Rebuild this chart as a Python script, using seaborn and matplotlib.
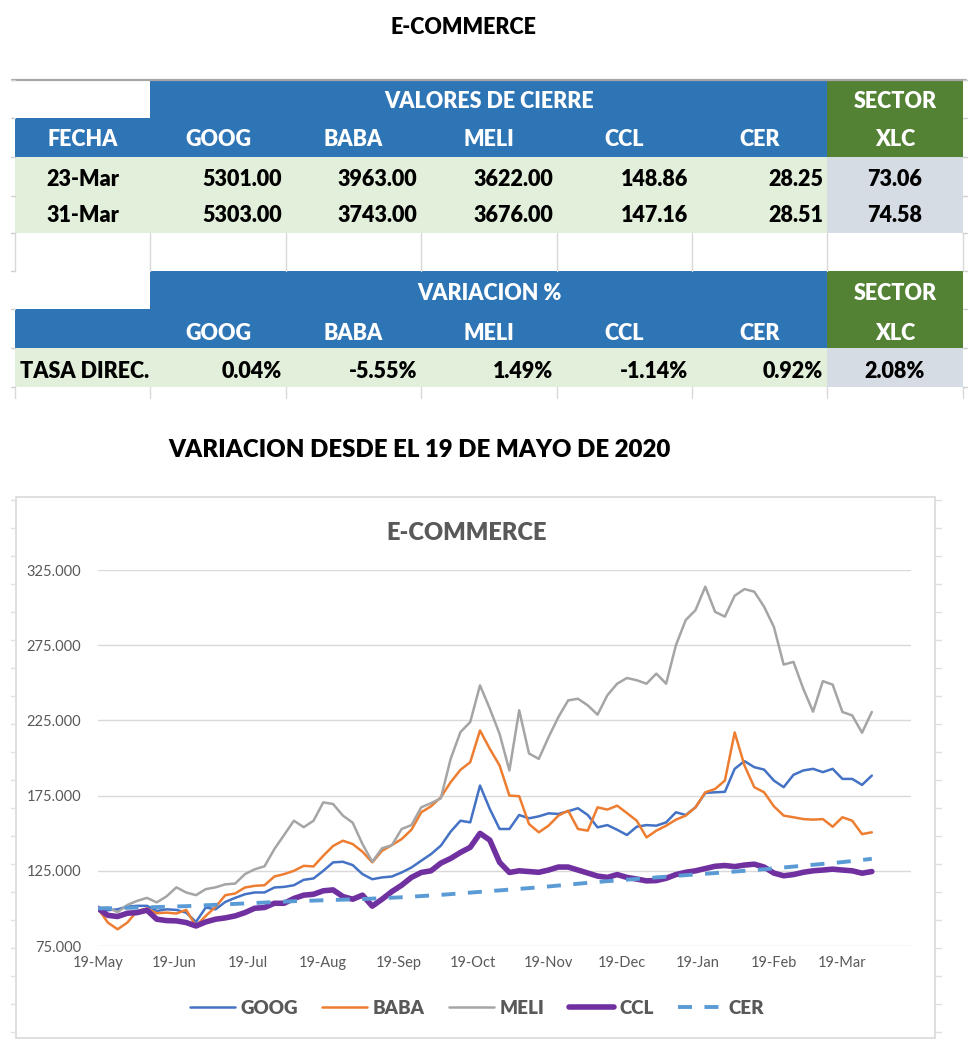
import numpy as np
import pandas as pd
import matplotlib
matplotlib.use("Agg")
import matplotlib.pyplot as plt
import matplotlib.dates as mdates
from matplotlib.patches import Rectangle
from matplotlib.lines import Line2D
import seaborn as sns

sns.set_theme(style="white")
plt.rcParams['font.family'] = ['Lato', 'DejaVu Sans']

# ---------------- table data ----------------
tickers = ["GOOG", "BABA", "MELI", "CCL", "CER"]
close_dates = ["23-Mar", "31-Mar"]
close_23 = [5301.00, 3963.00, 3622.00, 148.86, 28.25]
close_31 = [5303.00, 3743.00, 3676.00, 147.16, 28.51]
xlc_close = [73.06, 74.58]
var_pct = [0.04, -5.55, 1.49, -1.14, 0.92]
xlc_var = 2.08

# ---------------- chart data (base 100 = 19-May-2020, every 4 days) ----------------
start_date = "2020-05-19"
step_days = 4
goog = [100.0, 98.8, 99.4, 101.2, 101.7, 101.7, 98.3, 99.4, 99.0, 97.2,
        91.0, 100.6, 99.4, 104.3, 107.0, 109.4, 110.6, 110.6, 113.9, 114.3,
        115.4, 119.0, 119.9, 125.0, 130.6, 131.0, 128.8, 122.8, 119.4, 120.6,
        121.2, 123.9, 127.2, 131.7, 136.1, 141.7, 151.0, 158.3, 157.2, 181.7,
        166.1, 152.8, 152.8, 162.1, 159.9, 161.2, 163.2, 162.8, 164.6, 166.6,
        162.1, 153.9, 155.4, 152.3, 148.8, 154.3, 155.4, 155.0, 157.2, 163.9,
        162.1, 167.2, 176.8, 177.2, 177.5, 192.8, 197.9, 193.9, 192.3, 185.0,
        180.6, 188.8, 191.7, 192.8, 190.6, 192.8, 186.1, 186.1, 182.1, 188.3]
baba = [100.0, 90.6, 86.1, 90.6, 98.3, 99.9, 96.8, 97.2, 96.6, 99.0,
        88.3, 95.0, 101.0, 108.8, 109.9, 113.9, 115.0, 115.4, 121.2, 122.8,
        125.0, 128.3, 127.9, 135.0, 141.5, 145.0, 142.8, 137.7, 130.6, 138.3,
        142.1, 146.1, 152.3, 163.9, 167.9, 173.9, 183.9, 192.1, 197.2, 218.3,
        206.1, 195.0, 175.0, 174.6, 156.1, 150.6, 155.0, 161.7, 165.0, 152.8,
        151.7, 167.2, 165.7, 168.3, 163.4, 158.3, 147.2, 151.7, 155.0, 159.0,
        161.7, 167.2, 177.2, 179.4, 185.0, 217.0, 195.0, 180.6, 177.2, 167.9,
        161.7, 160.6, 159.4, 159.0, 159.4, 154.3, 160.6, 158.3, 149.4, 150.6]
meli = [100.0, 100.5, 97.5, 102.3, 105.0, 107.0, 104.0, 108.0, 114.0, 110.6,
        108.8, 112.8, 114.0, 116.0, 116.5, 122.8, 126.0, 128.0, 139.4, 148.8,
        158.3, 154.0, 158.3, 170.5, 169.4, 161.7, 157.0, 142.8, 131.0, 140.0,
        142.0, 152.8, 155.4, 167.2, 170.0, 173.2, 199.4, 217.2, 223.9, 248.3,
        232.8, 216.0, 191.7, 231.7, 203.0, 199.4, 213.9, 227.2, 238.3, 239.4,
        235.0, 228.8, 241.7, 249.4, 253.2, 251.7, 249.4, 256.1, 249.4, 275.0,
        291.7, 298.3, 313.9, 297.2, 294.0, 307.9, 312.3, 310.6, 300.6, 287.2,
        262.1, 263.9, 246.1, 230.8, 251.1, 248.8, 230.6, 228.3, 216.8, 230.6]
ccl = [100.0, 95.4, 94.6, 96.8, 97.2, 98.8, 92.8, 91.9, 91.7, 90.6,
       88.3, 91.0, 92.8, 93.7, 95.0, 97.2, 100.1, 100.6, 103.4, 103.4,
       106.6, 108.8, 109.4, 111.7, 112.3, 107.9, 106.1, 108.8, 101.5, 106.1,
       111.2, 115.4, 120.6, 123.9, 125.0, 130.1, 133.2, 137.2, 140.6, 149.9,
       145.4, 130.6, 123.9, 125.0, 124.5, 124.0, 125.5, 127.5, 127.5, 125.5,
       123.5, 121.5, 120.6, 122.5, 120.6, 119.5, 118.3, 118.5, 120.0, 122.5,
       124.0, 125.0, 126.5, 128.0, 128.5, 127.8, 128.8, 129.4, 127.5, 123.5,
       121.7, 122.5, 124.0, 125.0, 125.5, 126.1, 125.5, 125.0, 123.4, 124.5]
cer = [100.0, 100.1, 100.2, 100.4, 100.5, 100.7, 100.9, 101.1, 101.3, 101.5,
       101.8, 102.1, 102.4, 102.7, 103.0, 103.3, 103.6, 103.9, 104.2, 104.5,
       104.8, 105.0, 105.2, 105.4, 105.6, 105.8, 106.0, 106.2, 106.5, 106.8,
       107.1, 107.4, 107.8, 108.2, 108.6, 109.0, 109.5, 110.0, 110.5, 111.0,
       111.5, 112.0, 112.5, 113.0, 113.5, 114.0, 114.6, 115.2, 115.8, 116.4,
       117.0, 117.6, 118.1, 118.6, 119.1, 119.6, 120.1, 120.6, 121.1, 121.6,
       122.1, 122.6, 123.0, 123.5, 124.0, 124.5, 125.0, 125.5, 126.0, 126.6,
       127.2, 127.8, 128.4, 129.0, 129.6, 130.2, 130.8, 131.5, 132.2, 133.0]
yticks = [75, 125, 175, 225, 275, 325]
xtick_dates = ["2020-05-19", "2020-06-19", "2020-07-19", "2020-08-19", "2020-09-19",
               "2020-10-19", "2020-11-19", "2020-12-19", "2021-01-19", "2021-02-19",
               "2021-03-19"]

# ---------------- figure ----------------
W, H = 980, 1051
fig = plt.figure(figsize=(W / 100, H / 100), dpi=100)
fig.patch.set_facecolor("white")
BOLD = "heavy"


def fx(x):
    return x / W


def fy(y):
    return 1 - y / H


def rect(x0, y0, x1, y1, color, ec="none", lw=0):
    fig.add_artist(Rectangle((fx(x0), fy(y1)), (x1 - x0) / W, (y1 - y0) / H,
                             transform=fig.transFigure, facecolor=color,
                             edgecolor=ec, linewidth=lw, zorder=-2))


def hline(x0, x1, y, color="#D9D9D9", lw=1):
    fig.add_artist(Line2D([fx(x0), fx(x1)], [fy(y), fy(y)], transform=fig.transFigure,
                          color=color, linewidth=lw, zorder=-1))


def vline(x, y0, y1, color="#D9D9D9", lw=1):
    fig.add_artist(Line2D([fx(x), fx(x)], [fy(y0), fy(y1)], transform=fig.transFigure,
                          color=color, linewidth=lw, zorder=-1))


def txt(x, y, s, **kw):
    kw.setdefault("ha", "center")
    kw.setdefault("va", "center")
    kw.setdefault("fontweight", BOLD)
    kw.setdefault("fontsize", 15.5)
    fig.text(fx(x), fy(y), s, **kw)


BLUE = "#2E75B6"
GREEN = "#548235"
LGREEN = "#E2EFDA"
GBLUE = "#D6DCE4"

# title
txt(463, 28, "E-COMMERCE", color="black", fontsize=15.5)

cols = [15, 150, 286, 421, 557, 692, 827, 963]
col_centers = [(cols[i] + cols[i + 1]) / 2 for i in range(7)]
rows = [80, 118, 157, 196, 233, 271, 309, 348, 387]

# spreadsheet grid hints
hline(12, 966, 80, color="#A6A6A6", lw=1.6)
for c in cols:
    vline(c, 233, 271)
    vline(c, 387, 398)
for r in rows:
    hline(11, 15, r, color="#D0D0D0")
    hline(963, 967, r, color="#D0D0D0")

# block 1
rect(150, 80, 827, 118, BLUE)
rect(827, 80, 963, 118, GREEN)
rect(15, 118, 827, 157, BLUE)
rect(827, 118, 963, 157, GREEN)
rect(15, 157, 827, 233, LGREEN)
rect(827, 157, 963, 233, GBLUE)
txt(489, 101, "VALORES DE CIERRE", color="white")
txt(895, 101, "SECTOR", color="white")
txt(col_centers[0], 140, "FECHA", color="white")
for i, t in enumerate(tickers):
    txt(col_centers[i + 1], 140, t, color="white")
txt(895, 140, "XLC", color="white")
for r, (d, vals, xv) in enumerate(zip(close_dates, [close_23, close_31], xlc_close)):
    yc = 179 + r * 37
    txt(col_centers[0], yc, d, color="black")
    for i, v in enumerate(vals):
        txt(cols[i + 2] - 4, yc, f"{v:.2f}", color="black", ha="right")
    txt(895, yc, f"{xv:.2f}", color="black")

# block 2
rect(150, 271, 827, 309, BLUE)
rect(827, 271, 963, 309, GREEN)
rect(15, 309, 827, 348, BLUE)
rect(827, 309, 963, 348, GREEN)
rect(15, 348, 827, 387, LGREEN)
rect(827, 348, 963, 387, GBLUE)
txt(489, 294, "VARIACION %", color="white")
txt(895, 294, "SECTOR", color="white")
for i, t in enumerate(tickers):
    txt(col_centers[i + 1], 333, t, color="white")
txt(895, 333, "XLC", color="white")
txt(20, 371, "TASA DIREC.", color="black", ha="left")
for i, v in enumerate(var_pct):
    txt(cols[i + 2] - 4, 371, f"{v:.2f}%", color="black", ha="right")
txt(895, 371, f"{xlc_var:.2f}%", color="black")

# subtitle
txt(419, 450, "VARIACION DESDE EL 19 DE MAYO DE 2020", color="black", fontsize=17.3)

# chart box
rect(16, 497, 935, 1038, "white", ec="#D9D9D9", lw=1.2)
for yy in range(500, 1040, 28):
    hline(11, 16, yy, color="#E0E0E0")
    hline(935, 941, yy, color="#E0E0E0")
txt(467, 533, "E-COMMERCE", color="#595959", fontsize=17)

# line chart
ax = fig.add_axes([fx(98), fy(946), (911 - 98) / W, (946 - 570) / H])
ax.set_zorder(3)
dates = pd.date_range(start_date, periods=len(goog), freq=f"{step_days}D")
df = pd.DataFrame({"date": dates, "GOOG": goog, "BABA": baba, "MELI": meli,
                   "CCL": ccl, "CER": cer})
specs = [("GOOG", "#4472C4", 1.8, "-"),
         ("BABA", "#ED7D31", 1.8, "-"),
         ("MELI", "#A5A5A5", 1.8, "-"),
         ("CCL", "#7030A0", 4.0, "-"),
         ("CER", "#5B9BD5", 2.8, (0, (3.6, 3.2)))]
for name, color, lw, ls in specs:
    sns.lineplot(data=df, x="date", y=name, ax=ax, color=color, linewidth=lw,
                 linestyle=ls, label=name, legend=False, sort=False,
                 solid_joinstyle="round", solid_capstyle="round")

ax.set_xlim(pd.Timestamp(start_date), pd.Timestamp(start_date) + pd.Timedelta(days=332))
ax.set_ylim(yticks[0], yticks[-1])
ax.set_yticks(yticks)
ax.set_yticklabels([f"{v:.3f}" for v in yticks])
ax.set_xticks(pd.to_datetime(xtick_dates))
ax.xaxis.set_major_formatter(mdates.DateFormatter("%d-%b"))
ax.grid(axis="y", color="#D9D9D9", linewidth=1)
ax.grid(axis="x", visible=False)
for s in ax.spines.values():
    s.set_visible(False)
ax.tick_params(axis="y", length=0, pad=12, labelsize=10.5, labelcolor="#595959")
ax.tick_params(axis="x", length=0, pad=7, labelsize=10.5, labelcolor="#595959")
ax.set_xlabel("")
ax.set_ylabel("")
ax.set_facecolor("none")

handles, labels = ax.get_legend_handles_labels()
leg = fig.legend(handles, labels, loc="center", bbox_to_anchor=(fx(477), fy(1008)),
                 ncol=5, frameon=False, handlelength=2.4, handletextpad=0.3,
                 columnspacing=1.3, prop={"weight": BOLD, "size": 13.5})
for t in leg.get_texts():
    t.set_color("#595959")

fig.savefig("out.png", dpi=100)
